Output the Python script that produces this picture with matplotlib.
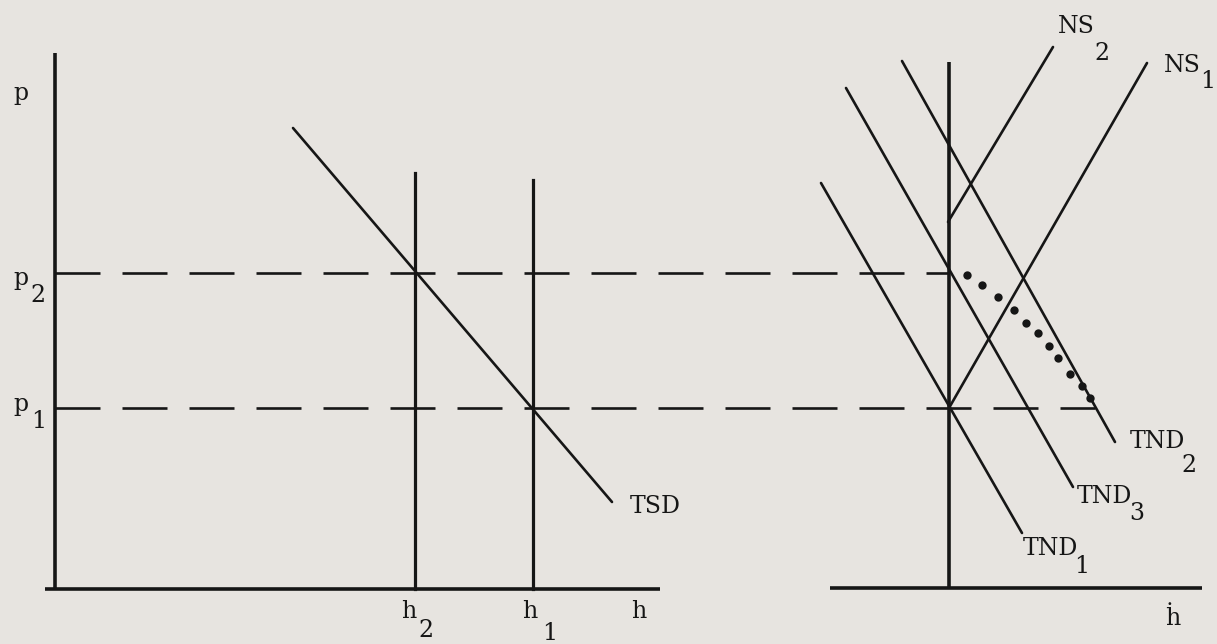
import matplotlib.pyplot as plt

# --- Figure size (pixels) ---
W, H = 1217, 644
bg = '#e7e4e0'
ink = '#161616'
font = ['DejaVu Serif']
fs = 17

# --- Left panel: price p against stock h ---
left_axis_x = 55
left_axis_top = 53
base_y = 589
left_base_x = [45, 660]

p_levels = {'p2': 273, 'p1': 408}
p_ends = {'p2': 949, 'p1': 1095}        # where the dashed price lines stop

h_levels = {'h2': 415, 'h1': 533}
h_tops = {'h2': 173, 'h1': 180}

tsd_x = [293, 612]
tsd_y = [128, 502]

# --- Right panel: price against flow h-dot ---
right_axis_x = 949
right_axis_top = 62
right_base_y = 588
right_base_x = [830, 1202]

ns2_x = [948, 1053]
ns2_y = [222, 47]
ns1_x = [949, 1147]
ns1_y = [408, 63]

tnd1_x = [821, 1022]
tnd1_y = [183, 533]
tnd3_x = [846, 1073]
tnd3_y = [88, 487]
tnd2_x = [902, 1115]
tnd2_y = [61, 442]

# dotted adjustment path from p2 down to p1
dot_x = [967, 982, 998, 1014, 1026, 1038, 1049, 1058, 1070, 1082, 1090]
dot_y = [275, 285, 297, 310, 323, 333, 346, 358, 374, 386, 398]

# --- labels: (text, x, baseline y) ---
labels = [
    ('p', 13, 100),
    ('p', 13, 285), ('2', 30, 302),
    ('p', 13, 411), ('1', 31, 428),
    ('TSD', 630, 513),
    ('h', 401, 618), ('2', 418, 637),
    ('h', 522, 618), ('1', 542, 640),
    ('h', 631, 618),
    ('ḣ', 1165, 625),
    ('NS', 1058, 33), ('2', 1094, 60),
    ('NS', 1164, 72), ('1', 1200, 88),
    ('TND', 1130, 448), ('2', 1181, 472),
    ('TND', 1077, 503), ('3', 1129, 520),
    ('TND', 1023, 555), ('1', 1074, 573),
]

fig = plt.figure(figsize=(W / 100, H / 100), dpi=100, facecolor=bg)
ax = fig.add_axes([0, 0, 1, 1])
ax.set_xlim(0, W)
ax.set_ylim(H, 0)
ax.set_facecolor(bg)
ax.axis('off')

axis_lw = 2.6
curve_lw = 1.9

# axes of both panels
ax.plot([left_axis_x, left_axis_x], [left_axis_top, base_y], color=ink, lw=axis_lw, solid_capstyle='butt')
ax.plot(left_base_x, [base_y, base_y], color=ink, lw=axis_lw, solid_capstyle='butt')
ax.plot([right_axis_x, right_axis_x], [right_axis_top, right_base_y], color=ink, lw=axis_lw, solid_capstyle='butt')
ax.plot(right_base_x, [right_base_y, right_base_y], color=ink, lw=axis_lw, solid_capstyle='butt')

# dashed price levels
dash_on = 45 * 0.72 / curve_lw
dash_off = 22 * 0.72 / curve_lw
for key, y in p_levels.items():
    ax.plot([left_axis_x, p_ends[key]], [y, y], color=ink, lw=curve_lw,
            linestyle=(0, (dash_on, dash_off)), dash_capstyle='butt')

# vertical stock lines
for key, x in h_levels.items():
    ax.plot([x, x], [h_tops[key], base_y], color=ink, lw=curve_lw + 0.4)

# demand / supply curves
for xs, ys in [(tsd_x, tsd_y), (ns2_x, ns2_y), (ns1_x, ns1_y),
               (tnd1_x, tnd1_y), (tnd3_x, tnd3_y), (tnd2_x, tnd2_y)]:
    ax.plot(xs, ys, color=ink, lw=curve_lw, solid_capstyle='round')

ax.plot(dot_x, dot_y, 'o', color=ink, markersize=6, markeredgewidth=0)

for txt, x, y in labels:
    ax.text(x, y, txt, family=font, fontsize=fs, color=ink,
            ha='left', va='baseline')

fig.savefig('out.png', dpi=100, facecolor=bg)
